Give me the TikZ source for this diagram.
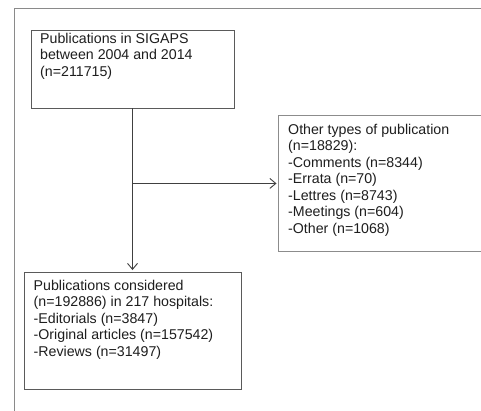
\documentclass[tikz,border=0pt]{standalone}
\usepackage{fontspec}
\setmainfont{Liberation Sans}
\usetikzlibrary{arrows.meta}
\definecolor{txt}{HTML}{1E1E1E}
\definecolor{boxline}{HTML}{5A5A5A}
\definecolor{frameline}{HTML}{8A8A8A}
\begin{document}
\begin{tikzpicture}[x=1pt,y=-1pt,
  box/.style={draw=boxline, line width=0.9pt, rectangle, inner sep=0pt},
  txtblock/.style={anchor=north west, inner sep=0pt, align=left, text=txt,
    font=\fontsize{14.2pt}{16.5pt}\selectfont},
  conn/.style={draw=black!75, line width=0.9pt},
  tip/.style={-{Straight Barb[length=6pt,width=10pt,line width=0.9pt]}}
]
\useasboundingbox (0,0) rectangle (481,411);
\fill[white] (0,0) rectangle (481,411);
% outer frame
\draw[frameline, line width=1pt] (14,420) -- (14,9) -- (490,9);
% boxes
\node[box, minimum width=203pt, minimum height=78pt] (b1) at (132.5,69) {};
\node[box, draw=black!45, minimum width=230pt, minimum height=136pt, anchor=north west] (b2) at (278,115) {};
\node[box, minimum width=217pt, minimum height=117pt] (b3) at (132.5,330.5) {};
% texts
\node[txtblock] (t1) at (40,32.9) {Publications in SIGAPS\\between 2004 and 2014\\(n=211715)};
\node[txtblock] (t2) at (288,123.9) {Other types of publication\\(n=18829):\\-Comments (n=8344)\\-Errata (n=70)\\-Lettres (n=8743)\\-Meetings (n=604)\\-Other (n=1068)};
\node[txtblock] (t3) at (33.5,279.6) {Publications considered\\(n=192886) in 217 hospitals:\\-Editorials (n=3847)\\-Original articles (n=157542)\\-Reviews (n=31497)};
% connectors
\coordinate (j) at (b1.south |- b2.west);
\draw[conn, tip, shorten >=1.5pt] (b1.south) -- (b3.north);
\draw[conn, tip, shorten >=1.5pt] (j) -- (b2.west);
\end{tikzpicture}
\end{document}
